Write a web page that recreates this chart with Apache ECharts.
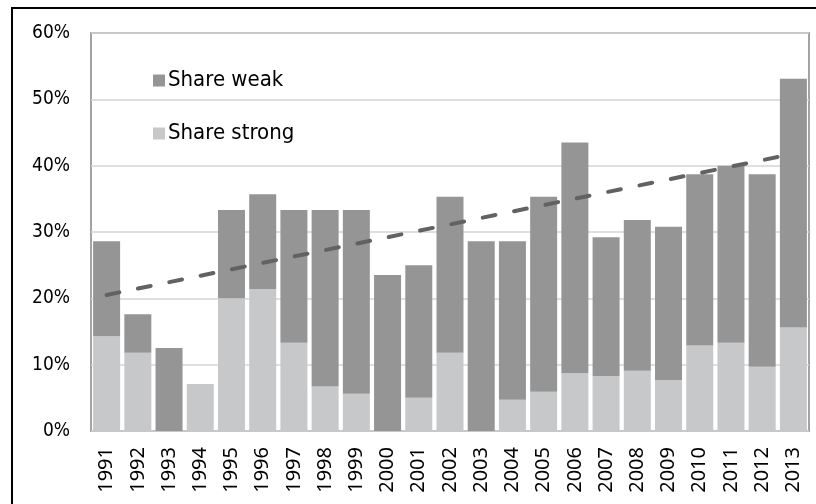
<!DOCTYPE html>
<html>
<head>
<meta charset="utf-8">
<script src="https://cdn.jsdelivr.net/npm/echarts@6/dist/echarts.min.js"></script>
<style>
  html, body { margin: 0; padding: 0; background: #fff; }
  #chart { width: 816px; height: 504px; }
</style>
</head>
<body>
<div id="chart"></div>
<script>
// data (percent)
var years = ['1991','1992','1993','1994','1995','1996','1997','1998','1999','2000','2001','2002',
             '2003','2004','2005','2006','2007','2008','2009','2010','2011','2012','2013'];
var shareStrong = [14.3, 11.8, 0, 7.1, 20.0, 21.4, 13.3, 6.7, 5.6, 0, 5.0, 11.8,
                   0, 4.7, 5.9, 8.7, 8.3, 9.1, 7.7, 12.9, 13.3, 9.7, 15.6];
var shareTotal = [28.6, 17.6, 12.5, 7.1, 33.3, 35.7, 33.3, 33.3, 33.3, 23.5, 25.0, 35.3,
                  28.6, 28.6, 35.3, 43.5, 29.2, 31.8, 30.8, 38.7, 40.0, 38.7, 53.1];
var shareWeak = [];
for (var i = 0; i < years.length; i++) {
  shareWeak.push(+(shareTotal[i] - shareStrong[i]).toFixed(1));
}
// linear trend end points
var trendYears = ['1991', '2013'];
var trendValues = [20.5, 41.8];
var yTicks = [0, 10, 20, 30, 40, 50, 60];

var dom = document.getElementById('chart');
var myChart = echarts.init(dom, null, {renderer: 'canvas'});

var trendData = [];
for (var j = 0; j < trendYears.length; j++) {
  trendData.push([trendYears[j], trendValues[j]]);
}

var option = {
  animation: false,
  backgroundColor: '#fff',
  graphic: [
    {
      type: 'rect',
      shape: {x: 12, y: 8, width: 900, height: 600},
      style: {fill: 'none', stroke: '#000', lineWidth: 2},
      silent: true
    }
  ],
  grid: {
    left: 91, top: 33, right: 7, bottom: 73,
    show: true,
    borderColor: '#a3a3a3',
    borderWidth: 2
  },
  legend: {
    orient: 'vertical',
    left: 148,
    top: 63,
    itemWidth: 12,
    itemHeight: 12,
    itemGap: 28,
    icon: 'rect',
    data: ['Share weak', 'Share strong'],
    textStyle: {
      fontFamily: 'DejaVu Sans Condensed',
      fontSize: 22,
      color: '#000',
      lineHeight: 25,
      padding: [0, 0, 0, -2]
    }
  },
  xAxis: {
    type: 'category',
    data: years,
    axisLine: {show: false},
    axisTick: {show: false},
    axisLabel: {
      rotate: 90,
      margin: 16,
      interval: 0,
      fontFamily: 'Noto Sans',
      fontSize: 20,
      color: '#000'
    }
  },
  yAxis: {
    type: 'value',
    min: yTicks[0],
    max: yTicks[yTicks.length - 1],
    interval: 10,
    axisLine: {show: false},
    axisTick: {show: false},
    splitLine: {lineStyle: {color: '#d4d4d4', width: 1.5}},
    axisLabel: {
      formatter: '{value}%',
      margin: 21,
      fontFamily: 'DejaVu Sans Condensed',
      fontSize: 19,
      color: '#000'
    }
  },
  series: [
    {
      name: 'Share strong',
      type: 'bar',
      stack: 'share',
      barWidth: 27,
      itemStyle: {color: '#c7c8c9'},
      data: shareStrong
    },
    {
      name: 'Share weak',
      type: 'bar',
      stack: 'share',
      barWidth: 27,
      itemStyle: {color: '#959596'},
      data: shareWeak
    },
    {
      name: 'trend',
      type: 'line',
      data: trendData,
      symbol: 'none',
      z: 5,
      lineStyle: {
        color: '#626262',
        width: 4,
        type: [13, 19],
        cap: 'round'
      }
    }
  ]
};
myChart.setOption(option, true);
</script>
</body>
</html>
